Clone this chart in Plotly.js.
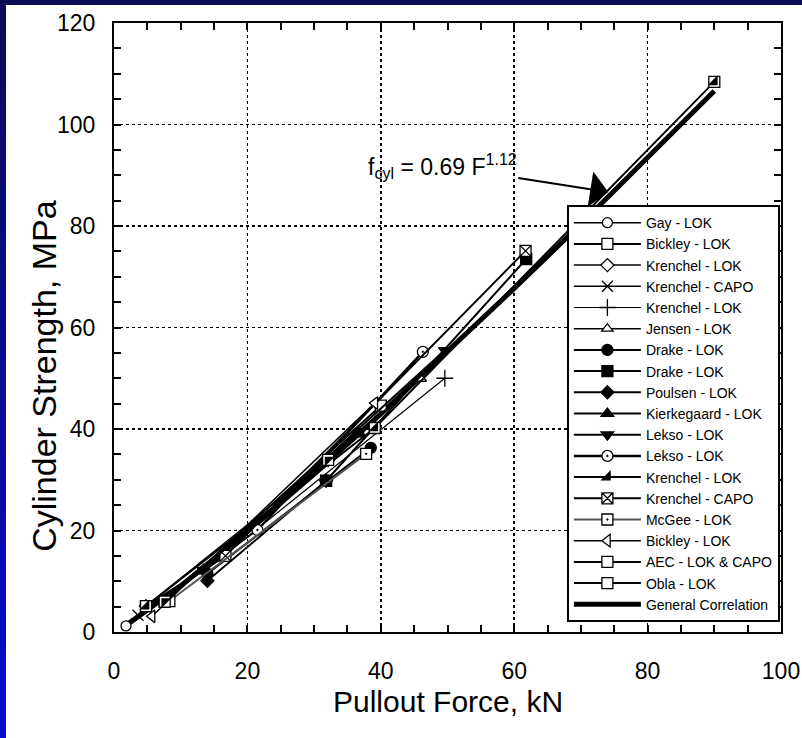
<!DOCTYPE html>
<html><head><meta charset="utf-8">
<script src="https://cdn.plot.ly/plotly-3.0.1.min.js"></script>
<style>
html,body{margin:0;padding:0;background:#fff;}
#wrap{position:relative;width:802px;height:738px;overflow:hidden;background:#fff;}
#topbar{position:absolute;left:0;top:0;width:802px;height:5px;background:#0b0a55;z-index:2}
#leftbar{position:absolute;left:0;top:0;width:6px;height:738px;background:linear-gradient(#0b0a55,#0a0ad2);z-index:2}
#chart{position:absolute;left:0;top:0;width:802px;height:738px;}
</style></head><body>
<div id="wrap"><div id="chart"></div><div id="topbar"></div><div id="leftbar"></div></div>
<script>
// ---------- data ----------
const seriesNames = ["Gay - LOK","Bickley - LOK","Krenchel - LOK","Krenchel - CAPO","Krenchel - LOK",
  "Jensen - LOK","Drake - LOK","Drake - LOK","Poulsen - LOK","Kierkegaard - LOK","Lekso - LOK",
  "Lekso - LOK","Krenchel - LOK","Krenchel - CAPO","McGee - LOK","Bickley - LOK","AEC - LOK & CAPO",
  "Obla - LOK","General Correlation"];

const gayX = [1.8, 21.5],            gayY = [1.2, 20.1];
const bickley1X = [7.6, 40.0],       bickley1Y = [6.0, 44.6];
const krenchelLok1X = [4.8, 32.1],   krenchelLok1Y = [5.1, 33.9];
const krenchelCapo1X = [3.6, 16.7],  krenchelCapo1Y = [3.3, 15.0];
const krenchelLok2X = [13.4, 49.6],  krenchelLok2Y = [11.8, 50.0];
const jensenX = [32.1, 46.0],        jensenY = [33.9, 49.9];
const drakeCircX = [14.0, 38.5],     drakeCircY = [11.5, 36.3];
const drakeSqX = [31.8, 61.8],       drakeSqY = [29.8, 73.5];
const poulsenX = [14.0, 31.8],       poulsenY = [10.1, 29.8];
const kierkegaardX = [13.4, 36.6],   kierkegaardY = [12.2, 39.5];
const lekso1X = [13.4, 49.6],        lekso1Y = [12.2, 55.5];
const lekso2X = [21.5, 46.3],        lekso2Y = [20.1, 55.2];
const krenchelLok3X = [12.8, 37.0],  krenchelLok3Y = [12.0, 39.0];
const krenchelCapo2X = [4.8, 16.7, 61.7], krenchelCapo2Y = [5.1, 15.0, 75.1];
const mcgeeX = [8.3, 37.8],          mcgeeY = [6.1, 35.1];
const bickley2X = [5.7, 39.1],       bickley2Y = [3.1, 45.1];
const aecX = [4.8, 39.1, 90.0],      aecY = [5.1, 40.2, 108.4];
const oblaX = [7.6, 32.1],           oblaY = [6.0, 33.9];
const generalX = [2, 10, 20, 30, 40, 50, 60, 70, 80, 90];
const generalY = [1.5, 9.1, 19.8, 31.1, 43.0, 55.2, 67.7, 80.4, 93.4, 106.6];

const xTicks = [0, 20, 40, 60, 80, 100];
const yTicks = [0, 20, 40, 60, 80, 100, 120];
const xRange = [0, 100];
const yRange = [0, 120];
const xTitle = "Pullout Force, kN";
const yTitle = "Cylinder Strength, MPa";
const equationText = "f<sub>cyl</sub> = 0.69 F<sup>1.12</sup>";
const arrowTip = [74.1, 86.7];

// ---------- styles ----------
const FONT = "Arial, 'Liberation Sans', Helvetica, sans-serif";
const seriesData = [
  [gayX, gayY], [bickley1X, bickley1Y], [krenchelLok1X, krenchelLok1Y], [krenchelCapo1X, krenchelCapo1Y],
  [krenchelLok2X, krenchelLok2Y], [jensenX, jensenY], [drakeCircX, drakeCircY], [drakeSqX, drakeSqY],
  [poulsenX, poulsenY], [kierkegaardX, kierkegaardY], [lekso1X, lekso1Y], [lekso2X, lekso2Y],
  [krenchelLok3X, krenchelLok3Y], [krenchelCapo2X, krenchelCapo2Y], [mcgeeX, mcgeeY],
  [bickley2X, bickley2Y], [aecX, aecY], [oblaX, oblaY], [generalX, generalY]
];
const styles = [
  {sym:'circle', fill:'white', lw:1.5, size:10},
  {sym:'square', fill:'white', lw:2, size:11},
  {sym:'diamond', fill:'white', lw:1.5, size:10},
  {sym:'x-thin', fill:'black', lw:1.5, size:11},
  {sym:'cross-thin', fill:'black', lw:1.2, size:12},
  {sym:'triangle-up', fill:'white', lw:1.5, size:10},
  {sym:'circle', fill:'black', lw:2, size:11},
  {sym:'square', fill:'black', lw:2, size:11},
  {sym:'diamond', fill:'black', lw:2, size:10},
  {sym:'triangle-up', fill:'black', lw:2, size:11},
  {sym:'triangle-down', fill:'black', lw:2, size:11},
  {sym:'circle-dot', fill:'white', lw:2.5, size:11},
  {sym:'triangle-se', fill:'black', lw:2, size:9},
  {sym:'square-x', fill:'white', lw:2, size:11},
  {sym:'square-dot', fill:'white', lw:2, size:11, lc:'#555'},
  {sym:'triangle-left', fill:'white', lw:1.5, size:11},
  {sym:'square', fill:'white', lw:2, size:11, over:'triangle-se'},
  {sym:'square', fill:'white', lw:2, size:11, over:'triangle-nw'},
  {sym:'none', lw:5}
];

const traces = [];
function makeTrace(i) {
  const s = styles[i], d = seriesData[i];
  const t = {
    type:'scatter', x:d[0], y:d[1], name:seriesNames[i],
    mode: s.sym === 'none' ? 'lines' : 'lines+markers',
    line:{color: s.lc || 'black', width:s.lw},
    legendrank: i + 1, legendgroup: 'g' + i
  };
  if (s.sym !== 'none') {
    t.marker = {symbol:s.sym, size:s.size, color:s.fill, line:{color:'black', width:1.3}};
  }
  return t;
}
// general correlation first so the data markers sit above it
traces.push(makeTrace(18));
for (let i = 0; i < 18; i++) {
  traces.push(makeTrace(i));
  if (styles[i].over) {
    const d = seriesData[i];
    traces.push({type:'scatter', x:d[0], y:d[1], mode:'markers', showlegend:false,
      legendgroup:'g' + i, hoverinfo:'skip',
      marker:{symbol:styles[i].over, size:styles[i].size, color:'black', line:{width:0}}});
  }
}
// invisible carriers for the mirrored (top/right) tick axes
traces.push({type:'scatter', x:[null], y:[null], xaxis:'x2', yaxis:'y', showlegend:false, hoverinfo:'skip'});
traces.push({type:'scatter', x:[null], y:[null], xaxis:'x', yaxis:'y2', showlegend:false, hoverinfo:'skip'});

const tickStyle = {
  ticks:'inside', ticklen:7, tickwidth:2, tickcolor:'black',
  minor:{dtick:5, ticks:'inside', ticklen:7, tickwidth:2, tickcolor:'black', showgrid:false}
};
const axisCommon = Object.assign({}, tickStyle, {
  mirror:true, showline:true, linewidth:2, linecolor:'black',
  showgrid:true, gridcolor:'black', gridwidth:1.5, griddash:'dot',
  zeroline:false, tickfont:{family:FONT, size:23, color:'black'},
  tickmode:'array'
});
const mirrorAxis = Object.assign({}, tickStyle, {
  showline:false, showgrid:false, zeroline:false, showticklabels:false, tickmode:'array'
});

const layout = {
  width:802, height:738,
  margin:{l:114, r:21, t:23, b:106},
  paper_bgcolor:'rgba(0,0,0,0)', plot_bgcolor:'white',
  font:{family:FONT, color:'black'},
  showlegend:true,
  xaxis:Object.assign({}, axisCommon, {
    range:xRange, tickvals:xTicks, ticktext:xTicks.map(String), ticklabelstandoff:17
  }),
  yaxis:Object.assign({}, axisCommon, {
    range:yRange, tickvals:yTicks, ticktext:yTicks.map(String), ticklabelstandoff:12
  }),
  xaxis2:Object.assign({}, mirrorAxis, {overlaying:'x', side:'top', range:xRange, tickvals:xTicks}),
  yaxis2:Object.assign({}, mirrorAxis, {overlaying:'y', side:'right', range:yRange, tickvals:yTicks}),
  legend:{x:0.679, y:0.701, xanchor:'left', yanchor:'top', bgcolor:'white',
    bordercolor:'black', borderwidth:2, font:{family:FONT, size:14, color:'black'},
    itemwidth:67, tracegroupgap:0},
  annotations:[{
    x:arrowTip[0], y:arrowTip[1], xref:'x', yref:'y',
    text:equationText, showarrow:true, ax:-166, ay:-26,
    arrowhead:1, arrowsize:3, arrowwidth:2, arrowcolor:'black',
    font:{family:FONT, size:23, color:'black'}
  }, {
    // x-axis title
    xref:'paper', yref:'paper', x:0.5, y:-0.1145, xanchor:'center', yanchor:'middle',
    text:xTitle, showarrow:false,
    font:{family:FONT, size:30, color:'black'}
  }, {
    // y-axis title (placed as in the reference, slightly below the plot centre)
    xref:'paper', yref:'paper', x:-0.104, y:0.42, xanchor:'center', yanchor:'middle',
    text:yTitle, textangle:-90, showarrow:false,
    font:{family:FONT, size:34, color:'black'}
  }]
};

Plotly.newPlot('chart', traces, layout, {displayModeBar:false, staticPlot:true});
</script>
</body></html>
